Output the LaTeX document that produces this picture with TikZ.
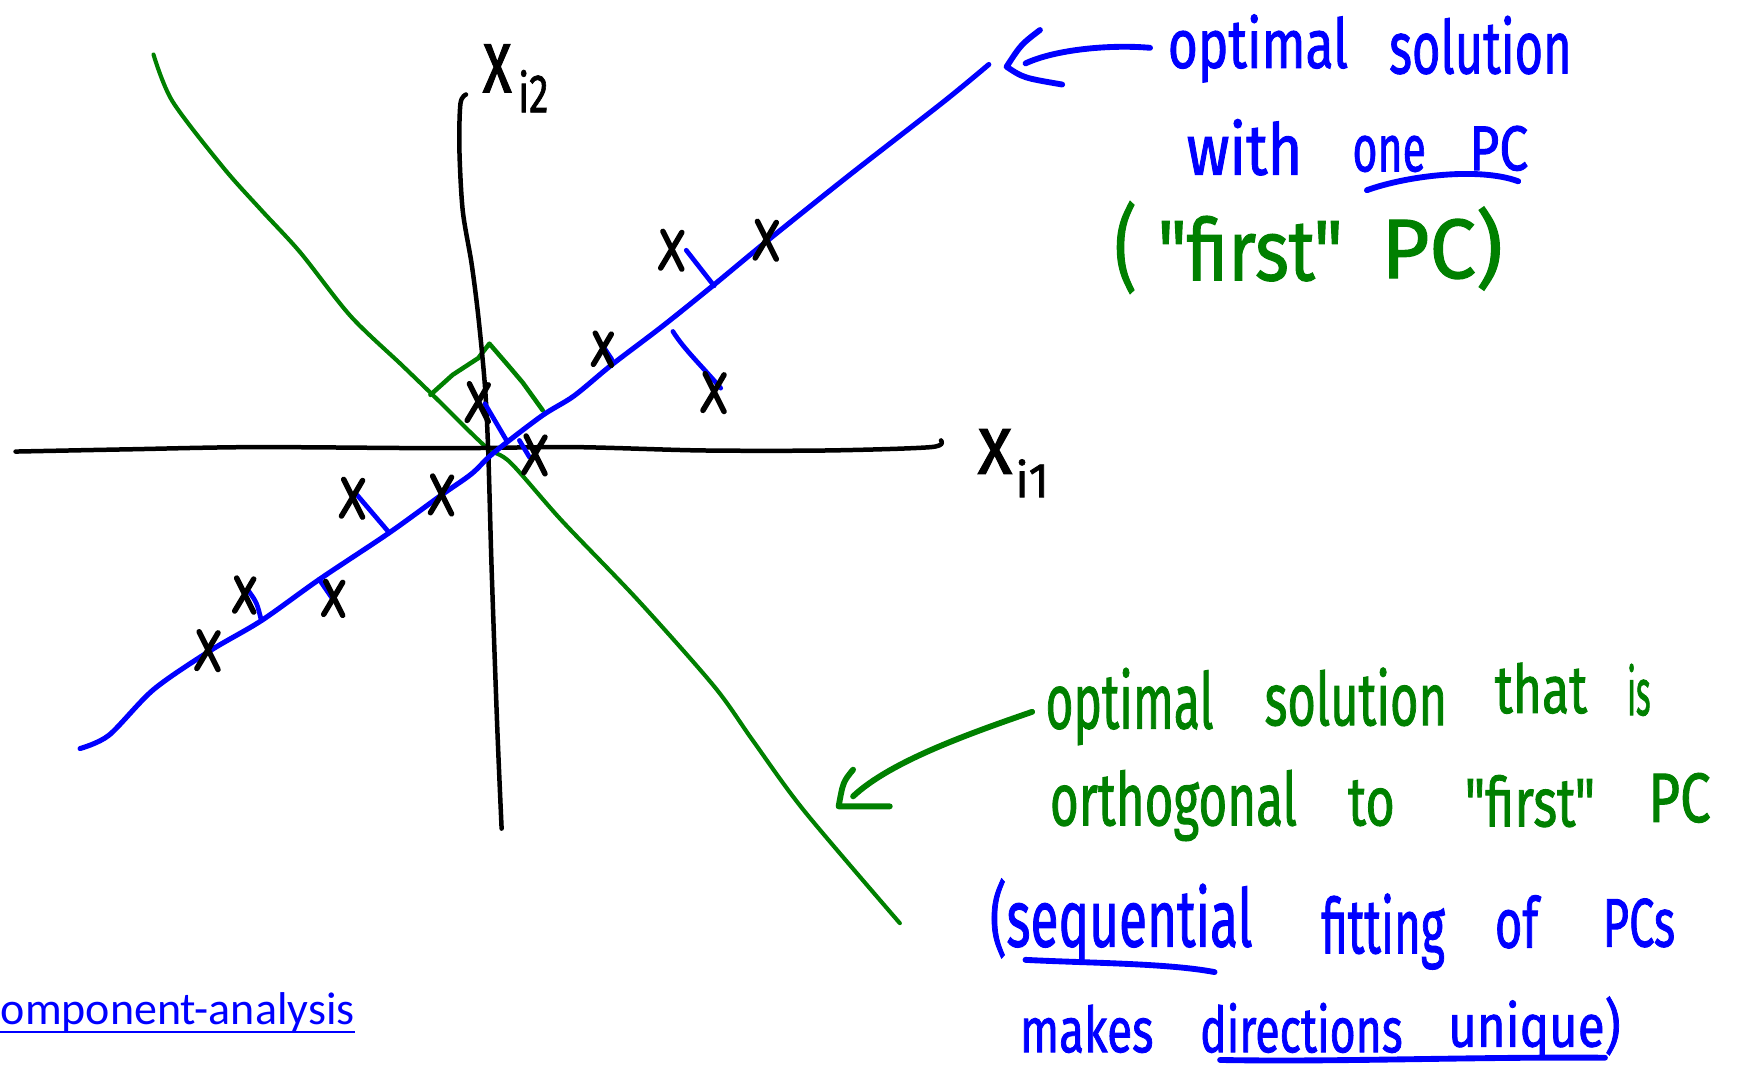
\documentclass[tikz,border=0pt]{standalone}
\usepackage{fontspec}
\setmainfont{Fira Sans}
\newfontfamily\handfont[FakeBold=1.5]{Fira Sans}
\newfontfamily\linkfont{Carlito}
\usepackage{graphicx}
\definecolor{penblue}{RGB}{0,0,255}
\definecolor{pengreen}{RGB}{0,128,0}
\newcommand\hw[3]{\resizebox{#1cm}{#2cm}{\handfont\vphantom{(l}#3}}
\newcommand\hwt[3]{\resizebox*{#1cm}{#2cm}{\handfont #3}}
\begin{document}
\begin{tikzpicture}[x=0.01cm, y=-0.01cm,
  axisline/.style={black, line width=1.15pt, line cap=round, line join=round},
  pcone/.style={penblue, line width=1.3pt, line cap=round, line join=round},
  pctwo/.style={pengreen, line width=1.05pt, line cap=round, line join=round},
  proj/.style={penblue, line width=1.2pt, line cap=round},
  markline/.style={black, line width=1.4pt, line cap=round},
  inkblue/.style={penblue, line width=1.5pt, line cap=round, line join=round},
  inkgreen/.style={pengreen, line width=1.5pt, line cap=round, line join=round},
  hwb/.style={inner sep=0pt, outer sep=0pt, anchor=base west, text=penblue},
  hwg/.style={inner sep=0pt, outer sep=0pt, anchor=base west, text=pengreen},
  lbl/.style={inner sep=0pt, outer sep=0pt, anchor=base west, text=black},
  xmark/.pic={
    \draw[markline] (-8,-17) .. controls (-2,-5) and (3,5) .. (9,17);
    \draw[markline] (9,-16) .. controls (2,-4) and (-4,6) .. (-10,16);
  }
]
\useasboundingbox (0,0) rectangle (1568,958);

% second PC (green)
\draw[pctwo] plot[smooth, tension=0.5] coordinates {(138,49) (155,91) (201,151) (235,189) (270,227) (315,284) (361,328) (390,356) (436,401) (459,416) (505,468) (573,539) (642,617) (677,666) (723,729) (809,830)};
% right-angle mark
\draw[pctwo, line width=1.15pt] (387,355) -- (407,337) -- (430,322) -- (440,309) -- (459,331) -- (470,344) -- (488,369);

% axes
\draw[axisline] plot[smooth, tension=0.5] coordinates {(14,406) (115,404) (229,402) (401,403) (516,402) (631,405) (745,405) (837,402) (846,396)};
\draw[axisline] plot[smooth, tension=0.5] coordinates {(419,85) (414,93) (413,133) (416,189) (424,237) (430,284) (436,347) (439,407) (442,511) (447,652) (451,745)};

% first PC (blue)
\draw[pcone] plot[smooth, tension=0.5] coordinates {(72,673) (98,661) (138,620) (189,585) (235,558) (287,521) (350,479) (397,445) (424,426) (444,407) (487,374) (516,356) (550,328) (596,293) (642,256) (688,218) (763,158) (849,91) (889,58)};
\coordinate (pcend) at (892,58);

% projections
\coordinate (d1) at (617,225); \coordinate (f1) at (642,257);
\coordinate (d3) at (542,311); \coordinate (f3) at (550,323);
\coordinate (d4) at (648,349); \coordinate (f4) at (605,298);
\coordinate (d5) at (436,363); \coordinate (f5) at (456,397);
\coordinate (d6) at (476,411); \coordinate (f6) at (467,396);
\coordinate (d7) at (321,445); \coordinate (f7) at (350,479);
\coordinate (d9) at (224,532); \coordinate (f9) at (235,558);
\coordinate (d10) at (298,537); \coordinate (f10) at (287,521);
\draw[proj] (d1) -- (f1);
\draw[proj] (d3) -- (f3);
\draw[proj] (f4) .. controls (615,314) and (630,328) .. (d4);
\draw[proj] (d5) -- (f5);
\draw[proj] (f6) -- (d6);
\draw[proj] (d7) -- (f7);
\draw[proj] (d9) .. controls (231,542) .. (f9);
\draw[proj] (f10) -- (d10);

% data points
\pic at (604,225) {xmark};
\pic at (689,216) {xmark};
\pic[scale=0.85] at (542,314) {xmark};
\pic at (642,353) {xmark};
\pic at (430,362) {xmark};
\pic at (481,409) {xmark};
\pic at (317,448) {xmark};
\pic at (397,445) {xmark};
\pic[scale=0.9] at (220,535) {xmark};
\pic[scale=0.9] at (300,538) {xmark};
\pic at (187,585) {xmark};

% axis labels
\node[lbl] (xtwo) at (434,83) {\hwt{0.26}{0.43}{x}};
\node[lbl] (xtwosub) at (466,101) {\hwt{0.27}{0.38}{i2}};
\node[lbl] (xone) at (879,426) {\hwt{0.31}{0.40}{x}};
\node[lbl] (xonesub) at (913,447) {\hwt{0.30}{0.34}{i1}};

% annotation: optimal solution with one PC ("first" PC)
\node[hwb] (t1a) at (1050,61) {\hw{1.62}{0.52}{optimal}};
\node[hwb] (t1b) at (1249,66) {\hw{1.64}{0.56}{solution}};
\node[hwb] (t2a) at (1067,157) {\hw{1.04}{0.54}{with}};
\node[hwb] (t2b) at (1216,154) {\hw{0.66}{0.50}{one}};
\node[hwb] (t2c) at (1321,153) {\hw{0.53}{0.48}{PC}};
\node[hwg, anchor=north west] (t3a) at (1002,181) {\hwt{0.20}{0.83}{(}};
\node[hwg] (t3b) at (1041,252) {\hw{1.66}{0.65}{"first"}};
\node[hwg] (t3c) at (1242,250) {\hw{1.09}{0.64}{PC)}};

% annotation: optimal solution that is orthogonal to "first" PC
\node[hwg] (t4a) at (940,655) {\hw{1.51}{0.59}{optimal}};
\node[hwg] (t4b) at (1137,652) {\hw{1.64}{0.56}{solution}};
\node[hwg] (t4c) at (1344,641) {\hw{0.83}{0.51}{that}};
\node[hwg] (t4d) at (1463,643) {\hw{0.21}{0.50}{is}};
\node[hwg] (t5a) at (944,742) {\hw{2.22}{0.56}{orthogonal}};
\node[hwg] (t5b) at (1212,742) {\hw{0.42}{0.52}{to}};
\node[hwg] (t5c) at (1317,743) {\hw{1.17}{0.52}{"first"}};
\node[hwg] (t5d) at (1482,739) {\hw{0.56}{0.53}{PC}};

% annotation: (sequential fitting of PCs makes directions unique)
\node[hwb] (t6a) at (890,851) {\hw{2.36}{0.61}{(sequential}};
\node[hwb] (t6b) at (1188,857) {\hw{1.11}{0.58}{fitting}};
\node[hwb] (t6c) at (1344,852) {\hw{0.39}{0.53}{of}};
\node[hwb] (t6d) at (1441,851) {\hw{0.65}{0.52}{PCs}};
\node[hwb] (t7a) at (917,946) {\hw{1.20}{0.48}{makes}};
\node[hwb] (t7b) at (1079,946) {\hw{1.82}{0.48}{directions}};
\node[hwb] (t7c) at (1302,941) {\hw{1.55}{0.45}{unique)}};

% underlines
\draw[inkblue] (1229,171) .. controls (1265,158) and (1330,150) .. (1365,163);
\draw[inkblue] (922,863) .. controls (980,866) and (1050,866) .. (1092,874);
\draw[inkblue] (1097,953) .. controls (1200,955) and (1330,950) .. (1443,951);

% arrows
\coordinate (a1s) at (1034,43);
\coordinate (a1e) at (922,57);
\draw[inkblue] (a1s) .. controls (1000,40) and (950,44) .. (a1e);
\draw[inkblue] (935,27) .. controls (918,40) .. (905,60) .. controls (920,70) .. (955,76);
\coordinate (a2s) at (928,640);
\coordinate (a2e) at (767,716);
\draw[inkgreen] (a2s) .. controls (870,660) and (800,685) .. (a2e);
\draw[inkgreen] (767,692) .. controls (758,703) .. (754,725) -- (800,725);

% link
\node[inner sep=0pt, anchor=base west, text=penblue, font=\linkfont] (link) at (0,921) {\resizebox{3.18cm}{!}{omponent-analysis}};
\draw[penblue, line width=0.6pt] ([yshift=-2pt]link.base west) -- ([yshift=-2pt]link.base east);
\end{tikzpicture}
\end{document}
